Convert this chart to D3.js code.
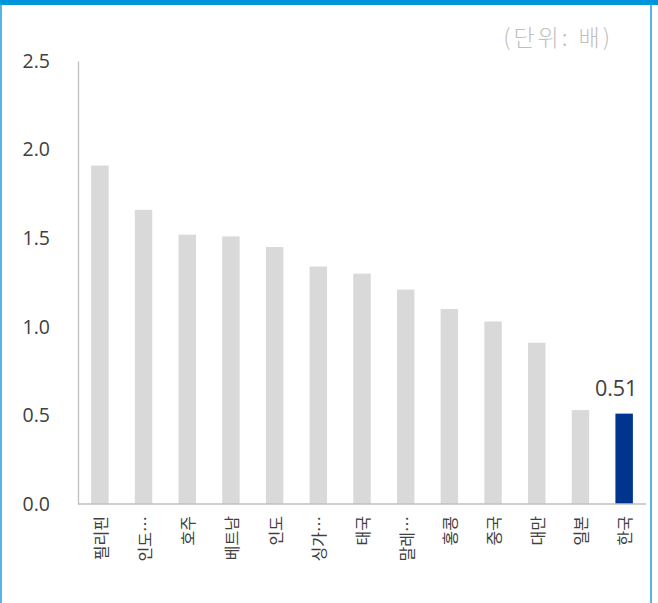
<!DOCTYPE html>
<html>
<head>
<meta charset="utf-8">
<script src="https://cdn.jsdelivr.net/npm/d3@7"></script>
<style>
  body { margin: 0; background: #fff; }
  svg { display: block; }
</style>
</head>
<body>
<svg id="chart" width="658" height="603"></svg>
<script>
// 국가별 배수 (단위: 배)
const countries = ['필리핀', '인도네시아', '호주', '베트남', '인도', '싱가포르', '태국',
  '말레이시아', '홍콩', '중국', '대만', '일본', '한국'];
const shortLabels = ['필리핀', '인도…', '호주', '베트남', '인도', '싱가…', '태국',
  '말레…', '홍콩', '중국', '대만', '일본', '한국'];
const values = [1.91, 1.66, 1.52, 1.51, 1.45, 1.34, 1.30, 1.21, 1.10, 1.03, 0.91, 0.53, 0.51];
const yTicks = [0, 0.5, 1.0, 1.5, 2.0, 2.5];
const highlight = '한국';

const svg = d3.select('#chart');
const margin = { top: 61, left: 78, right: 12, bottom: 99 };
const width = 658 - margin.left - margin.right;
const height = 603 - margin.top - margin.bottom;

// frame
svg.append('rect')
  .attr('x', 1).attr('y', 0).attr('width', 650).attr('height', 610)
  .attr('fill', 'none').attr('stroke', '#56b4e6').attr('stroke-width', 2);
svg.append('rect')
  .attr('x', 0).attr('y', 0).attr('width', 658).attr('height', 5)
  .attr('fill', '#0094da');

const g = svg.append('g').attr('transform', `translate(${margin.left},${margin.top})`);

const x = d3.scaleBand().domain(countries).range([0, width]).paddingInner(0.6).paddingOuter(0.3);
const y = d3.scaleLinear().domain([0, 2.5]).range([height, 0]);

// y axis
const yAxis = g.append('g').call(d3.axisLeft(y).tickValues(yTicks).tickFormat(d3.format('.1f')).tickSize(0).tickPadding(28));
yAxis.select('.domain').attr('stroke', '#bfbfbf').attr('stroke-width', 1.3);
yAxis.selectAll('text')
  .attr('fill', '#404040')
  .style('font-family', '"Open Sans", "Noto Sans", sans-serif')
  .style('font-size', '19.5px');

// bars
g.selectAll('rect.bar')
  .data(countries)
  .join('rect')
  .attr('class', 'bar')
  .attr('x', d => x(d))
  .attr('width', x.bandwidth())
  .attr('y', (d, i) => y(values[i]))
  .attr('height', (d, i) => height - y(values[i]))
  .attr('fill', d => d === highlight ? '#00358f' : '#d9d9d9');

// x axis
const xAxis = g.append('g')
  .attr('transform', `translate(0,${height})`)
  .call(d3.axisBottom(x).tickSize(0).tickFormat((d, i) => shortLabels[i]));
xAxis.select('.domain').attr('stroke', '#bfbfbf').attr('stroke-width', 1.3)
  .attr('d', `M0,0H${x.range()[1]}`);
xAxis.selectAll('text')
  .attr('fill', '#404040')
  .style('font-family', '"Noto Sans CJK KR", sans-serif')
  .style('font-size', '16px')
  .attr('text-anchor', 'end')
  .attr('dominant-baseline', 'central')
  .attr('dy', null)
  .attr('y', 0)
  .attr('transform', 'translate(0,12) rotate(-90)');

// value label for highlight
const hi = countries.indexOf(highlight);
g.append('text')
  .attr('x', x(highlight) + x.bandwidth() / 2 - 8)
  .attr('y', y(values[hi]) - 18)
  .attr('text-anchor', 'middle')
  .attr('fill', '#404040')
  .style('font-family', '"Open Sans", "Noto Sans", sans-serif')
  .style('font-size', '21.5px')
  .text(values[hi].toFixed(2));

// unit
svg.append('text')
  .attr('x', 613).attr('y', 36)
  .attr('text-anchor', 'end')
  .attr('dominant-baseline', 'central')
  .attr('fill', '#bfbfbf')
  .style('font-family', '"Noto Sans CJK KR", sans-serif')
  .style('font-weight', 300)
  .style('font-size', '23px')
  .style('letter-spacing', '3px')
  .text('(단위: 배)');
</script>
</body>
</html>
